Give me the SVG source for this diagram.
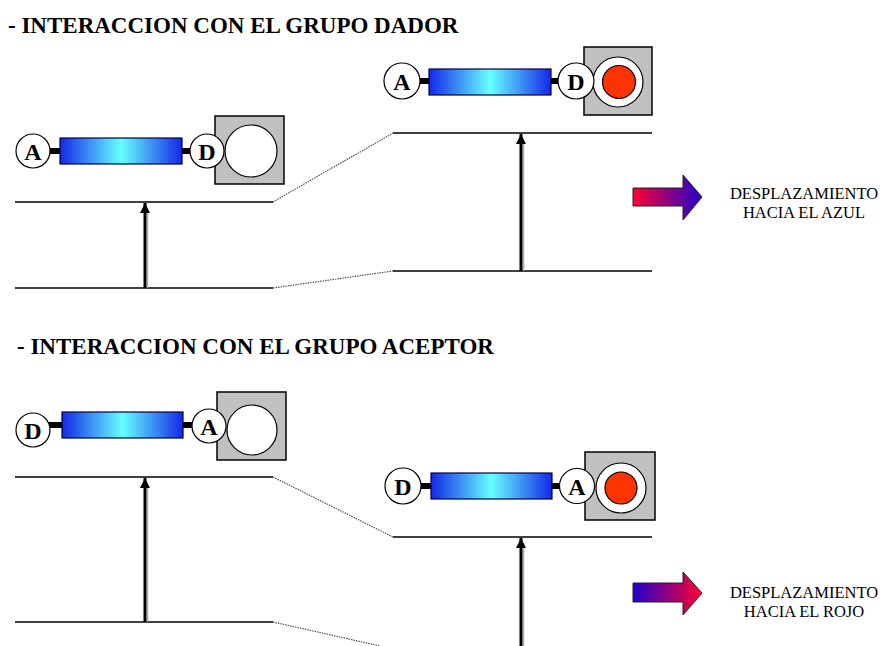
<svg xmlns="http://www.w3.org/2000/svg" width="885" height="646" viewBox="0 0 885 646">
<defs>
<linearGradient id="bar" x1="0" y1="0" x2="1" y2="0">
<stop offset="0" stop-color="#1428e8"/>
<stop offset="0.5" stop-color="#66ffff"/>
<stop offset="1" stop-color="#1428e8"/>
</linearGradient>
<linearGradient id="rb" x1="0" y1="0" x2="1" y2="0">
<stop offset="0" stop-color="#ff0033"/>
<stop offset="1" stop-color="#2200cc"/>
</linearGradient>
<linearGradient id="br" x1="0" y1="0" x2="1" y2="0">
<stop offset="0" stop-color="#2200cc"/>
<stop offset="1" stop-color="#ff0033"/>
</linearGradient>
<marker id="ah" viewBox="0 0 10 10" refX="10" refY="5" markerWidth="10" markerHeight="10" markerUnits="userSpaceOnUse" orient="auto">
<path d="M0,0 L10,5 L0,10 Z" fill="#000"/>
</marker>
</defs>
<style>
.title{font-family:"Liberation Serif","Times New Roman",serif;font-weight:bold;font-size:23px;fill:#000}
.lbl{font-family:"Liberation Serif","Times New Roman",serif;font-weight:bold;font-size:24px;fill:#000;text-anchor:middle}
.cap{font-family:"Liberation Serif","Times New Roman",serif;font-size:16.5px;fill:#000;text-anchor:middle}
.lvl{stroke:#000;stroke-width:1.5;fill:none}
.dot{stroke:#555;stroke-width:1.2;stroke-dasharray:1.5 1;fill:none}
.arr{stroke:#000;stroke-width:3;fill:none}
.sh{stroke:#aaa;stroke-width:1.5;fill:none}
.stub{stroke:#000;stroke-width:6}
.bar{fill:url(#bar);stroke:#000044;stroke-width:1.2}
.circ{fill:#fff;stroke:#000;stroke-width:1.2}
.sq{fill:#c0c0c0;stroke:#000;stroke-width:1.5}
.red{fill:#ff3300;stroke:#000;stroke-width:1.2}
.gar{stroke:#222;stroke-width:1}
</style>

<text class="title" x="8" y="33">- INTERACCION CON EL GRUPO DADOR</text>
<text class="title" x="17" y="354">- INTERACCION CON EL GRUPO ACEPTOR</text>

<g id="connectors">
<line class="lvl" x1="15" y1="202" x2="273" y2="202"/>
<line class="lvl" x1="15" y1="288" x2="273" y2="288"/>
<line class="dot" x1="273" y1="202" x2="393" y2="133"/>
<line class="dot" x1="273" y1="288" x2="393" y2="271"/>
<line class="lvl" x1="393" y1="133" x2="652" y2="133"/>
<line class="lvl" x1="393" y1="271" x2="652" y2="271"/>
<line class="sh" x1="147.5" y1="288" x2="147.5" y2="212"/>
<line class="arr" x1="145" y1="288" x2="145" y2="203" marker-end="url(#ah)"/>
<line class="sh" x1="523.5" y1="271" x2="523.5" y2="143"/>
<line class="arr" x1="521" y1="271" x2="521" y2="134" marker-end="url(#ah)"/>
<line class="lvl" x1="15" y1="477" x2="273" y2="477"/>
<line class="lvl" x1="15" y1="622" x2="273" y2="622"/>
<line class="dot" x1="273" y1="477" x2="393" y2="537"/>
<line class="dot" x1="273" y1="622" x2="380" y2="646"/>
<line class="lvl" x1="393" y1="537" x2="652" y2="537"/>
<line class="sh" x1="147.5" y1="622" x2="147.5" y2="487"/>
<line class="arr" x1="145" y1="622" x2="145" y2="478" marker-end="url(#ah)"/>
<line class="sh" x1="523.5" y1="646" x2="523.5" y2="547"/>
<line class="arr" x1="521" y1="646" x2="521" y2="538" marker-end="url(#ah)"/>
</g>

<g id="mol-dador-ground">
<line class="stub" x1="48" y1="151" x2="61" y2="151"/>
<line class="stub" x1="181" y1="151" x2="192" y2="151"/>
<rect class="bar" x="60" y="138" width="122" height="26"/>
<rect class="sq" x="215" y="116" width="69" height="68"/>
<circle class="circ" cx="251" cy="151" r="26"/>
<circle class="circ" cx="33" cy="151" r="17"/>
<text class="lbl" x="33" y="159.5">A</text>
<circle class="circ" cx="207" cy="151" r="17"/>
<text class="lbl" x="207" y="159.5">D</text>
</g>

<g id="mol-dador-excited">
<line class="stub" x1="418" y1="81" x2="430" y2="81"/>
<line class="stub" x1="550" y1="81" x2="560" y2="81"/>
<rect class="bar" x="429" y="69" width="122" height="26"/>
<rect class="sq" x="584" y="47" width="68" height="68"/>
<circle class="circ" cx="618" cy="82" r="25"/>
<circle class="red" cx="619" cy="82" r="16.5"/>
<circle class="circ" cx="402" cy="81" r="18"/>
<text class="lbl" x="402" y="89.5">A</text>
<circle class="circ" cx="576" cy="81" r="18"/>
<text class="lbl" x="576" y="89.5">D</text>
</g>

<g id="shift-blue">
<polygon class="gar" fill="url(#rb)" points="633,188 683,188 683,175 702,197 683,220 683,206 633,206"/>
<text class="cap" x="804" y="199">DESPLAZAMIENTO</text>
<text class="cap" x="804" y="218">HACIA EL AZUL</text>
</g>

<g id="mol-aceptor-ground">
<line class="stub" x1="49" y1="425" x2="63" y2="425"/>
<line class="stub" x1="182" y1="425" x2="194" y2="425"/>
<rect class="bar" x="62" y="412" width="121" height="26"/>
<rect class="sq" x="217" y="392" width="69" height="68"/>
<circle class="circ" cx="252" cy="430" r="25"/>
<circle class="circ" cx="33" cy="430" r="17"/>
<text class="lbl" x="33" y="438.5">D</text>
<circle class="circ" cx="209" cy="426" r="17"/>
<text class="lbl" x="209" y="434.5">A</text>
</g>

<g id="mol-aceptor-excited">
<line class="stub" x1="419" y1="486" x2="432" y2="486"/>
<line class="stub" x1="551" y1="486" x2="562" y2="486"/>
<rect class="bar" x="431" y="473" width="121" height="26"/>
<rect class="sq" x="585" y="452" width="70" height="68"/>
<circle class="circ" cx="621" cy="488" r="25"/>
<circle class="red" cx="621" cy="488" r="16"/>
<circle class="circ" cx="403" cy="486" r="18"/>
<text class="lbl" x="403" y="494.5">D</text>
<circle class="circ" cx="577" cy="486" r="17.5"/>
<text class="lbl" x="577" y="494.5">A</text>
</g>

<g id="shift-red">
<polygon class="gar" fill="url(#br)" points="633,583 683,583 683,572 702,593 683,615 683,602 633,602"/>
<text class="cap" x="804" y="598">DESPLAZAMIENTO</text>
<text class="cap" x="804" y="617">HACIA EL ROJO</text>
</g>
</svg>
